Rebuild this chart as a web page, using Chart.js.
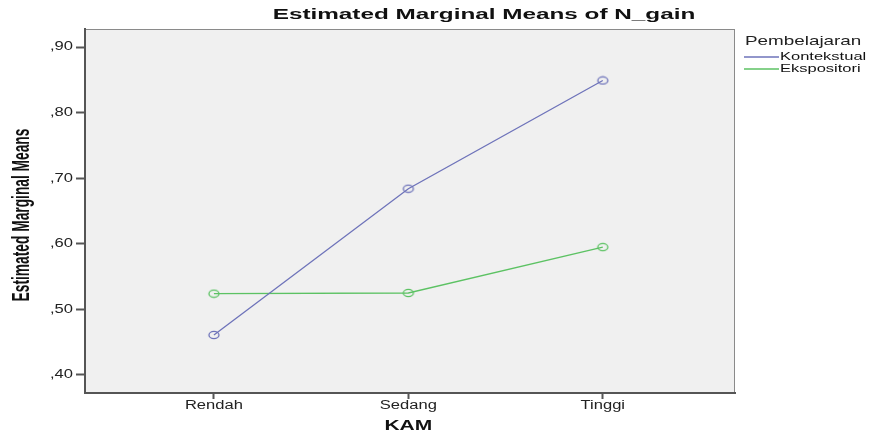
<!DOCTYPE html>
<html>
<head>
<meta charset="utf-8">
<script src="https://cdn.jsdelivr.net/npm/chart.js@4/dist/chart.umd.min.js"></script>
<style>
  body { margin: 0; background: #fff; }
  #wrap { width: 872px; height: 436px; }
</style>
</head>
<body>
<div id="wrap"><canvas id="chart"></canvas></div>
<script>
const categories = ['Rendah', 'Sedang', 'Tinggi'];
const kontekstual = [0.461, 0.684, 0.849];
const ekspositori = [0.524, 0.525, 0.595];
const yTicks = [0.40, 0.50, 0.60, 0.70, 0.80, 0.90];

const FONT = '"Liberation Sans", Arial, sans-serif';
const BLUE = '#6e73ba';
const GREEN = '#5cc263';

// the source picture is stretched sideways, so text is drawn with a horizontal scale
function wideText(ctx, text, x, y, font, sx, align) {
    ctx.save();
    ctx.translate(x, y);
    ctx.scale(sx, 1);
    ctx.font = font;
    ctx.textAlign = align || 'center';
    ctx.textBaseline = 'middle';
    ctx.fillText(text, 0, 0);
    ctx.restore();
}

function ellipseMarker(color) {
    const c = document.createElement('canvas');
    c.width = 14; c.height = 10;
    const g = c.getContext('2d');
    g.strokeStyle = color;
    g.lineWidth = 1.3;
    g.beginPath();
    g.ellipse(7, 5, 5, 3.6, 0, 0, Math.PI * 2);
    g.stroke();
    return c;
}

const decor = {
    id: 'decor',
    beforeDraw(chart) {
        const { ctx, chartArea: a } = chart;
        ctx.save();
        ctx.fillStyle = '#f0f0f0';
        ctx.fillRect(a.left, a.top, a.right - a.left, a.bottom - a.top);
        ctx.strokeStyle = '#8a8a8a';
        ctx.lineWidth = 1;
        ctx.strokeRect(a.left + 0.5, a.top + 0.5, a.right - a.left - 1, a.bottom - a.top - 1);
        ctx.restore();
    },
    afterDraw(chart) {
        const { ctx, chartArea: a, scales } = chart;
        ctx.save();
        ctx.fillStyle = '#111';
        wideText(ctx, 'Estimated Marginal Means of N_gain', 484, 15, 'bold 15px ' + FONT, 1.62);
        wideText(ctx, 'KAM', scales.x.getPixelForValue(2), 426, 'bold 14px ' + FONT, 1.5);

        ctx.fillStyle = '#222';
        categories.forEach((c, i) => {
            wideText(ctx, c, scales.x.getPixelForValue(i + 1), 406, '12px ' + FONT, 1.38);
        });
        yTicks.forEach(v => {
            wideText(ctx, ',' + Math.round(v * 100), 73, scales.y.getPixelForValue(v), '12px ' + FONT, 1.38, 'right');
        });

        // rotated y title: squeezed along the text, widened across it
        ctx.save();
        ctx.fillStyle = '#111';
        ctx.translate(22, (a.top + a.bottom) / 2 + 4);
        ctx.rotate(-Math.PI / 2);
        ctx.scale(0.86, 1.55);
        ctx.font = 'bold 16px ' + FONT;
        ctx.textAlign = 'center';
        ctx.textBaseline = 'middle';
        ctx.fillText('Estimated Marginal Means', 0, 0);
        ctx.restore();

        // legend
        ctx.fillStyle = '#222';
        wideText(ctx, 'Pembelajaran', 745, 41, '13px ' + FONT, 1.45, 'left');
        chart.data.datasets.forEach((ds, i) => {
            const y = 57 + i * 12;
            ctx.strokeStyle = ds.borderColor;
            ctx.lineWidth = 1.5;
            ctx.beginPath();
            ctx.moveTo(744, y);
            ctx.lineTo(779, y);
            ctx.stroke();
            ctx.fillStyle = '#111';
            wideText(ctx, ds.label, 780, y, '11px ' + FONT, 1.5, 'left');
        });
        ctx.restore();
    }
};

function toPoints(values) {
    return values.map((v, i) => ({ x: i + 1, y: v }));
}

new Chart(document.getElementById('chart'), {
    type: 'line',
    data: {
        datasets: [{
            label: 'Kontekstual',
            data: toPoints(kontekstual),
            borderColor: BLUE,
            borderWidth: 1.3,
            pointStyle: ellipseMarker(BLUE),
            tension: 0
        }, {
            label: 'Ekspositori',
            data: toPoints(ekspositori),
            borderColor: GREEN,
            borderWidth: 1.3,
            pointStyle: ellipseMarker(GREEN),
            tension: 0
        }]
    },
    options: {
        responsive: true,
        maintainAspectRatio: false,
        animation: false,
        layout: { padding: { top: 29, right: 137, left: 0, bottom: 0 } },
        plugins: {
            legend: { display: false },
            title: { display: false },
            tooltip: { enabled: false }
        },
        scales: {
            x: {
                type: 'linear',
                min: 0.337,
                max: 3.68,
                afterBuildTicks(scale) {
                    scale.ticks = categories.map((c, i) => ({ value: i + 1 }));
                },
                afterFit(scale) { scale.height = 43; },
                ticks: { display: false },
                grid: { drawOnChartArea: false, drawTicks: true, tickLength: 6, tickColor: '#555', tickWidth: 2 },
                border: { color: '#555', width: 2 }
            },
            y: {
                min: 0.3725,
                max: 0.9275,
                afterBuildTicks(scale) {
                    scale.ticks = yTicks.map(v => ({ value: v }));
                },
                afterFit(scale) { scale.width = 85; },
                ticks: { display: false },
                grid: { drawOnChartArea: false, drawTicks: true, tickLength: 9, tickColor: '#555', tickWidth: 2 },
                border: { color: '#555', width: 2 }
            }
        }
    },
    plugins: [decor]
});
</script>
</body>
</html>
